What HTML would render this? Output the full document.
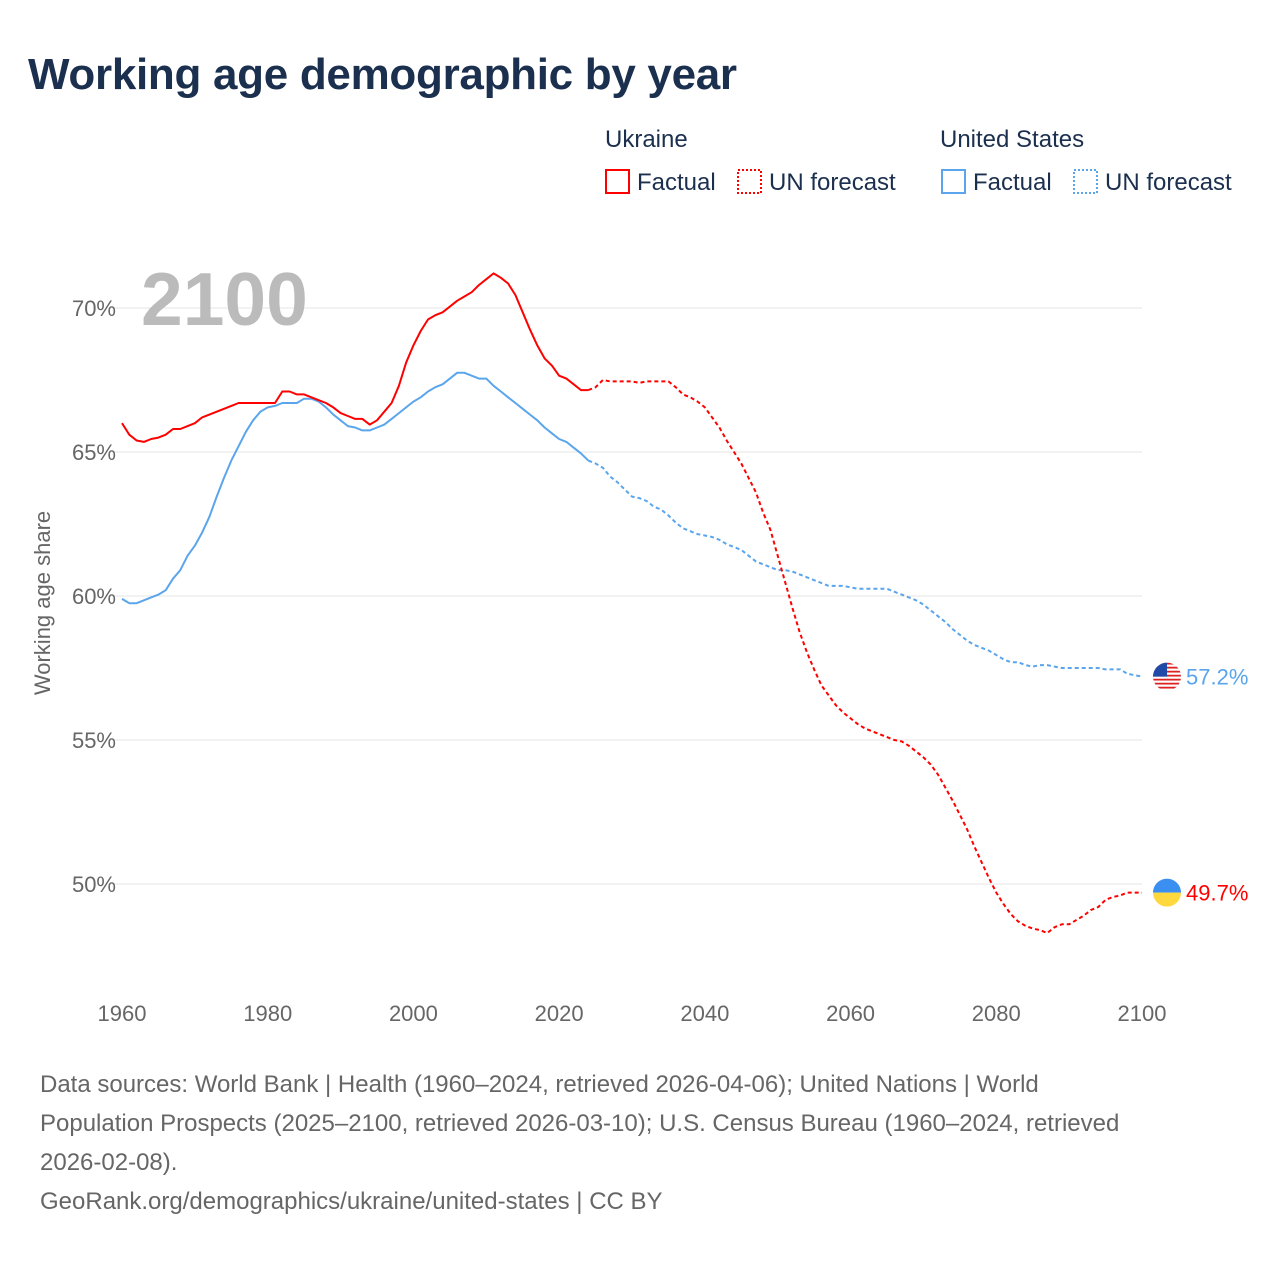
<!DOCTYPE html>
<html><head><meta charset="utf-8">
<style>
body{margin:0;background:#fff;font-family:"Liberation Sans",sans-serif;}
#wrap{position:relative;width:1280px;height:1280px;overflow:hidden;}
.t{position:absolute;white-space:nowrap;}
</style></head>
<body>
<div id="wrap">
<div class="t" style="left:28px;top:50px;font-size:44px;font-weight:bold;color:#1b2f4e;letter-spacing:-0.3px">Working age demographic by year</div>
<svg id="chart" width="1280" height="1280" style="position:absolute;left:0;top:0"></svg>
<div class="t" style="left:40px;top:1065px;font-size:24px;line-height:39px;color:#666">Data sources: World Bank | Health (1960–2024, retrieved 2026-04-06); United Nations | World<br>Population Prospects (2025–2100, retrieved 2026-03-10); U.S. Census Bureau (1960–2024, retrieved<br>2026-02-08).<br>GeoRank.org/demographics/ukraine/united-states | CC BY</div>
</div>
<script>
const years=[];for(let y=1960;y<=2100;y++)years.push(y);
const ukraineFactual=[66.0,65.6,65.4,65.35,65.45,65.5,65.6,65.8,65.8,65.9,66.0,66.2,66.3,66.4,66.5,66.6,66.7,66.7,66.7,66.7,66.7,66.7,67.1,67.1,67.0,67.0,66.9,66.8,66.7,66.55,66.35,66.25,66.15,66.15,65.95,66.1,66.4,66.7,67.3,68.1,68.7,69.2,69.6,69.75,69.85,70.05,70.25,70.4,70.55,70.8,71.0,71.2,71.05,70.85,70.45,69.85,69.25,68.7,68.25,68.0,67.65,67.55,67.35,67.15,67.15];
const ukraineForecast=[67.25,67.5,67.45,67.45,67.45,67.45,67.4,67.45,67.45,67.45,67.45,67.25,67.0,66.9,66.75,66.55,66.2,65.85,65.4,65.0,64.6,64.1,63.6,62.9,62.3,61.4,60.5,59.6,58.75,58.05,57.45,56.9,56.55,56.2,55.95,55.75,55.55,55.4,55.3,55.2,55.1,55.0,54.95,54.8,54.6,54.4,54.15,53.8,53.35,52.9,52.4,51.9,51.3,50.75,50.2,49.7,49.3,48.95,48.7,48.55,48.45,48.4,48.3,48.5,48.6,48.6,48.75,48.9,49.1,49.2,49.45,49.55,49.6,49.7,49.7,49.7];
const usFactual=[59.9,59.75,59.75,59.85,59.95,60.05,60.2,60.6,60.9,61.4,61.75,62.2,62.75,63.45,64.1,64.7,65.2,65.7,66.1,66.4,66.55,66.6,66.7,66.7,66.7,66.85,66.85,66.75,66.55,66.3,66.1,65.9,65.85,65.75,65.75,65.85,65.95,66.15,66.35,66.55,66.75,66.9,67.1,67.25,67.35,67.55,67.75,67.75,67.65,67.55,67.55,67.3,67.1,66.9,66.7,66.5,66.3,66.1,65.85,65.65,65.45,65.35,65.15,64.95,64.7];
const usForecast=[64.6,64.45,64.15,63.95,63.7,63.45,63.4,63.3,63.1,63.0,62.8,62.55,62.35,62.25,62.15,62.1,62.05,61.95,61.8,61.7,61.6,61.4,61.2,61.1,61.0,60.9,60.9,60.85,60.75,60.65,60.55,60.45,60.35,60.35,60.35,60.3,60.25,60.25,60.25,60.25,60.25,60.15,60.05,59.95,59.85,59.7,59.5,59.3,59.1,58.85,58.65,58.45,58.3,58.2,58.1,57.95,57.8,57.7,57.7,57.6,57.55,57.6,57.6,57.55,57.5,57.5,57.5,57.5,57.5,57.5,57.45,57.45,57.45,57.3,57.25,57.2];
const yTicks=[50,55,60,65,70];
const xTicks=[1960,1980,2000,2020,2040,2060,2080,2100];
const X=y=>122+(y-1960)*(1020/140);
const Y=v=>308+(70-v)*28.8;
const svg=document.getElementById('chart');const NS='http://www.w3.org/2000/svg';
function mk(tag,attrs,parent){const e=document.createElementNS(NS,tag);for(const k in attrs)e.setAttribute(k,attrs[k]);(parent||svg).appendChild(e);return e;}
yTicks.forEach(v=>{
 const g=mk('line',{x1:112,x2:1142,y1:Y(v),y2:Y(v),stroke:'#e6e6e6','stroke-width':1});
 
 
 const t=mk('text',{x:116,y:Y(v)+8,'text-anchor':'end','font-size':22,fill:'#666','font-family':'Liberation Sans, sans-serif'});t.textContent=v+'%';
 
 
});
xTicks.forEach(v=>{
 const t=mk('text',{x:X(v),y:1021,'text-anchor':'middle','font-size':22,fill:'#666','font-family':'Liberation Sans, sans-serif'});t.textContent=v;
 
 
});
const yt=mk('text',{x:0,y:0,transform:'translate(50,603) rotate(-90)','text-anchor':'middle','font-size':22,fill:'#666','font-family':'Liberation Sans, sans-serif'});yt.textContent='Working age share';


const yr=mk('text',{x:141,y:325,'font-size':75,'font-weight':'bold',fill:'#bbb','font-family':'Liberation Sans, sans-serif'});yr.textContent='2100';


function line(vals,start,color,dash,name){
 const d=vals.map((v,i)=>(i?'L':'M')+X(start+i).toFixed(1)+','+Y(v).toFixed(1)).join('');
 const p=mk('path',{d:d,fill:'none',stroke:color,'stroke-width':2,'stroke-dasharray':dash||'none','stroke-linejoin':'round'});
 
 
}
line(usFactual,1960,'#5aa5ec',null,'us-factual-line');
line([usFactual[usFactual.length-1]].concat(usForecast),2024,'#5aa5ec','4,3','us-forecast-line');
line(ukraineFactual,1960,'#f00',null,'ukraine-factual-line');
line([ukraineFactual[ukraineFactual.length-1]].concat(ukraineForecast),2024,'#f00','4,3','ukraine-forecast-line');
const uy=Y(usForecast[usForecast.length-1]),ky=Y(ukraineForecast[ukraineForecast.length-1]);
const cx=1167;
const defs=mk('defs',{});const cp=mk('clipPath',{id:'c1'},defs);mk('circle',{cx:cx,cy:uy,r:14},cp);
const cp2=mk('clipPath',{id:'c2'},defs);mk('circle',{cx:cx,cy:ky,r:14},cp2);
const fu=mk('g',{'clip-path':'url(#c1)'});
for(let i=0;i<7;i++)mk('rect',{x:cx-14,y:uy-14+i*4,width:28,height:2,fill:'#d22'},fu);
for(let i=0;i<7;i++)mk('rect',{x:cx-14,y:uy-12+i*4,width:28,height:2,fill:'#fff'},fu);
mk('rect',{x:cx-14,y:uy-14,width:14,height:14,fill:'#1f4aa8'},fu);
const fk=mk('g',{'clip-path':'url(#c2)'});
mk('rect',{x:cx-14,y:ky-14,width:28,height:14,fill:'#3a8ff0'},fk);mk('rect',{x:cx-14,y:ky,width:28,height:14,fill:'#ffd83d'},fk);
const lu=mk('text',{x:1186,y:uy+8,'font-size':22,fill:'#5aa5ec','font-family':'Liberation Sans, sans-serif'});lu.textContent=usForecast[usForecast.length-1].toFixed(1)+'%';


const lk=mk('text',{x:1186,y:ky+8,'font-size':22,fill:'#f00','font-family':'Liberation Sans, sans-serif'});lk.textContent=ukraineForecast[ukraineForecast.length-1].toFixed(1)+'%';


function legHead(x,txt,name){const t=mk('text',{x:x,y:147,'font-size':24,fill:'#1b2f4e','font-family':'Liberation Sans, sans-serif'});t.textContent=txt;
 
 }
legHead(605,'Ukraine','legend-ukraine-title');legHead(940,'United States','legend-us-title');
function legItem(x,color,dash,txt,name){
 const r=mk('rect',{x:x,y:170,width:23,height:23,fill:'none',stroke:color,'stroke-width':2,'stroke-dasharray':dash||'none'});
 
 
 const t=mk('text',{x:x+31,y:190,'font-size':24,fill:'#1b2f4e','font-family':'Liberation Sans, sans-serif'});t.textContent=txt;
 
 
}
legItem(606,'#f00',null,'Factual','legend-ukraine-factual');
legItem(738,'#f00','2,2','UN forecast','legend-ukraine-forecast');
legItem(942,'#5aa5ec',null,'Factual','legend-us-factual');
legItem(1074,'#5aa5ec','2,2','UN forecast','legend-us-forecast');
</script>
</body></html>
